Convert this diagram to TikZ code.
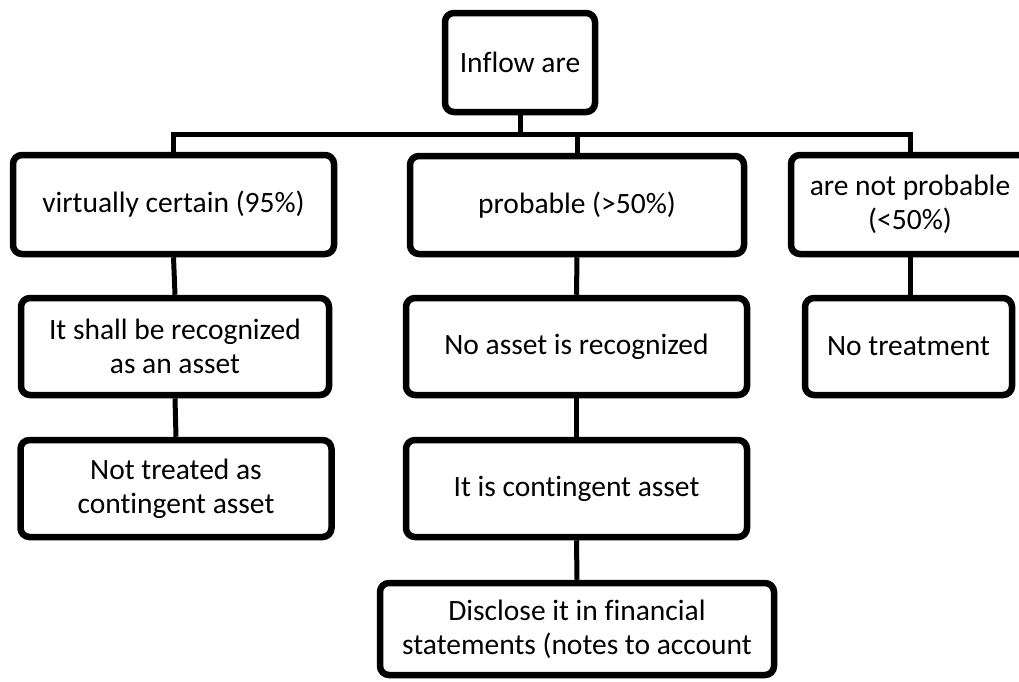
\documentclass[tikz,border=0pt]{standalone}
\usepackage{fontspec}
\setmainfont{Carlito}[Ligatures=NoCommon]
\usetikzlibrary{shadows}
\begin{document}
\begin{tikzpicture}[x=1pt,y=-1pt,
  box/.style={draw=black, line width=6.5pt, rounded corners=9pt, fill=white,
    align=center, inner sep=2pt,
    font=\fontsize{29.5}{34}\selectfont,
    drop shadow={shadow xshift=2pt, shadow yshift=-3pt, opacity=0.25, fill=gray}},
  link/.style={draw=black, line width=5pt}]
\clip (0,0) rectangle (1019,681);
\fill[white] (0,0) rectangle (1019,681);
\node[box, minimum width=150pt, minimum height=99pt] (top) at (520,62.5) {Inflow are};
\node[box, minimum width=321pt, minimum height=99pt] (vc) at (173.5,204.5) {virtually certain (95\%)};
\node[box, minimum width=334pt, minimum height=98pt] (prob) at (577,205) {probable (>50\%)};
\node[box, minimum width=238pt, minimum height=99pt] (np) at (910,204.5) {are not probable\\(<50\%)};
\node[box, minimum width=308pt, minimum height=97pt] (shall) at (175,346.5) {It shall be recognized\\as an asset};
\node[box, minimum width=341pt, minimum height=97pt] (noasset) at (576.5,346.5) {No asset is recognized};
\node[box, minimum width=207pt, minimum height=97pt] (notreat) at (908.5,346.5) {No treatment};
\node[box, minimum width=311pt, minimum height=97pt] (nottreated) at (176,488.5) {Not treated as\\contingent asset};
\node[box, minimum width=341pt, minimum height=97pt] (cont) at (576.5,488.5) {It is contingent asset};
\node[box, minimum width=394pt, minimum height=92pt] (disc) at (577,629) {Disclose it in financial\\statements (notes to account};
\coordinate (busy) at (0,134);
\draw[link] (top.south) -- (top.south |- busy);
\draw[link] (vc.north) -- (vc.north |- busy) -- (np.north |- busy) -- (np.north);
\draw[link] (prob.north) -- (prob.north |- busy);
\draw[link] (vc.south) -- (shall.north);
\draw[link] (shall.south) -- (nottreated.north);
\draw[link] (prob.south) -- (noasset.north);
\draw[link] (noasset.south) -- (cont.north);
\draw[link] (cont.south) -- (disc.north);
\draw[link] (np.south) -- (np.south |- notreat.north);
\end{tikzpicture}
\end{document}
